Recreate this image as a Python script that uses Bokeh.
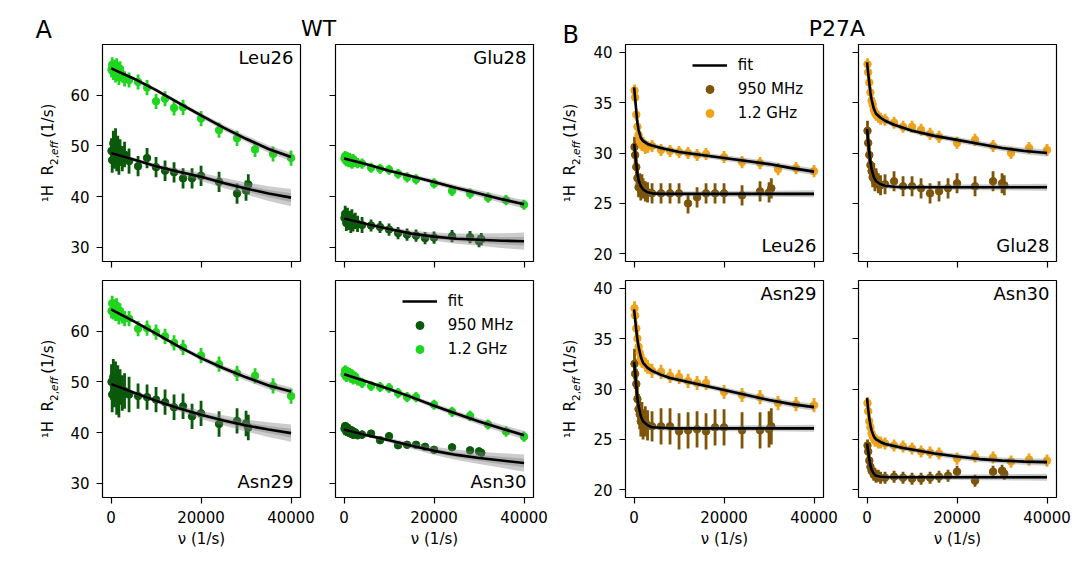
import math
from bokeh.plotting import figure
from bokeh.models import (Range1d, FixedTicker, Label, Legend, LegendItem, ColumnDataSource,
                          CustomLabelingPolicy)
from bokeh.layouts import row, column
from bokeh.embed import file_html
from bokeh.resources import INLINE

FONT = "DejaVu Sans"

# ---------------- data ----------------
NU_950 = [100, 250, 500, 750, 1000, 1250, 1500, 1750, 2000, 2500, 3000, 4000,
          6000, 8000, 10000, 12000, 14000, 16000, 18000, 20000, 24000, 28000, 30000, 30500]
NU_1200 = [100, 250, 500, 750, 1000, 1250, 1500, 1750, 2000, 2500, 3000, 4000,
           6000, 8000, 10000, 12000, 14000, 16000, 20000, 24000, 28000, 32000, 36000, 40000]

WT_FIT_NU = [0, 5000, 10000, 15000, 20000, 25000, 30000, 35000, 40000]
WT_SD_950 = [0.3, 0.35, 0.45, 0.6, 0.8, 1.0, 1.2, 1.45, 1.7]
WT_SD_1200 = [0.3, 0.3, 0.35, 0.4, 0.5, 0.55, 0.65, 0.75, 0.85]

P27A_FIT_NU = [0, 250, 500, 750, 1000, 1500, 2000, 3000, 4000, 6000, 8000, 10000,
               15000, 20000, 25000, 30000, 35000, 40000]
P27A_SD = [0.25, 0.25, 0.25, 0.25, 0.25, 0.25, 0.25, 0.25, 0.25, 0.25, 0.25, 0.25,
           0.25, 0.28, 0.3, 0.3, 0.32, 0.35]

# WT Leu26
WT_LEU26_950 = [49.0, 47.2, 50.5, 48.0, 51.0, 47.5, 49.5, 46.8, 48.8, 47.5, 48.3, 47.0,
                46.0, 47.6, 45.8, 45.1, 44.8, 43.6, 43.6, 44.1, 42.9, 40.6, 41.2, 42.4]
WT_LEU26_950_ERR = [2.5] * 12 + [2.0] * 12
WT_LEU26_1200 = [65.0, 66.0, 64.5, 65.5, 64.0, 65.8, 64.6, 63.5, 65.2, 64.0, 63.2, 63.0,
                 62.6, 61.5, 58.8, 59.3, 57.5, 57.6, 55.4, 53.1, 51.5, 49.3, 48.4, 47.6]
WT_LEU26_1200_ERR = [1.5] * 24
WT_LEU26_FIT_950 = [48.6, 47.3, 46.0, 44.9, 43.9, 42.7, 41.6, 40.6, 39.8]
WT_LEU26_FIT_1200 = [65.3, 63.3, 61.0, 58.5, 56.0, 53.6, 51.4, 49.4, 47.8]

# WT Glu28
WT_GLU28_950 = [35.8, 36.6, 34.8, 36.2, 35.0, 35.6, 34.4, 35.9, 34.7, 35.2, 34.6, 34.4,
                34.3, 34.0, 33.5, 32.8, 32.5, 32.3, 31.8, 31.9, 32.2, 32.0, 31.2, 31.6]
WT_GLU28_950_ERR = [1.6] * 12 + [1.2] * 12
WT_GLU28_1200 = [47.5, 48.0, 47.0, 47.8, 46.8, 47.6, 47.2, 46.5, 47.4, 46.9, 46.6, 46.5,
                 45.7, 45.5, 45.3, 44.5, 43.8, 43.4, 42.6, 41.1, 40.6, 39.8, 39.3, 38.4]
WT_GLU28_1200_ERR = [1.0] * 24
WT_GLU28_FIT_950 = [35.7, 34.6, 33.6, 32.7, 32.1, 31.7, 31.5, 31.3, 31.2]
WT_GLU28_FIT_1200 = [47.5, 46.4, 45.1, 44.0, 42.9, 41.7, 40.6, 39.5, 38.5]

# WT Asn29
WT_ASN29_950 = [50.0, 47.5, 51.0, 48.5, 50.5, 47.0, 49.8, 46.5, 49.0, 47.8, 48.2, 47.5,
                47.2, 47.0, 46.5, 46.0, 45.0, 45.2, 43.2, 43.8, 41.7, 42.3, 41.8, 41.0]
WT_ASN29_950_ERR = [3.5] * 12 + [2.5] * 12
WT_ASN29_1200 = [64.0, 65.5, 63.8, 64.8, 63.5, 65.0, 64.2, 62.8, 64.0, 63.0, 62.5, 62.5,
                 60.5, 60.6, 59.8, 59.0, 57.7, 56.8, 55.2, 53.5, 51.7, 51.2, 49.2, 47.2]
WT_ASN29_1200_ERR = [1.5] * 24
WT_ASN29_FIT_950 = [49.6, 47.9, 46.3, 44.8, 43.5, 42.4, 41.4, 40.6, 39.9]
WT_ASN29_FIT_1200 = [64.3, 62.0, 59.5, 57.0, 54.7, 52.7, 50.9, 49.3, 48.1]

# WT Asn30
WT_ASN30_950 = [40.8, 41.3, 40.2, 41.0, 40.0, 40.6, 39.8, 40.4, 39.6, 40.0, 39.5, 39.6,
                39.8, 38.5, 39.3, 37.5, 37.6, 37.6, 37.2, 36.6, 37.1, 36.5, 36.3, 36.0]
WT_ASN30_950_ERR = [0.8] * 12 + [0.6] * 12
WT_ASN30_1200 = [51.5, 52.3, 51.0, 52.0, 51.2, 51.8, 50.8, 51.5, 50.5, 51.0, 50.3, 49.8,
                 49.2, 49.0, 48.8, 47.8, 47.0, 47.0, 45.5, 44.1, 43.3, 41.6, 40.2, 39.2]
WT_ASN30_1200_ERR = [1.0] * 24
WT_ASN30_FIT_950 = [40.6, 39.5, 38.5, 37.4, 36.4, 35.6, 35.0, 34.5, 34.0]
WT_ASN30_FIT_1200 = [51.5, 50.1, 48.6, 47.0, 45.3, 43.7, 42.2, 40.8, 39.5]

# P27A Leu26
P_LEU26_950 = [30.6, 29.8, 28.6, 27.5, 26.6, 27.0, 26.3, 26.9, 26.5, 26.2, 26.1, 26.0,
               26.0, 26.0, 26.0, 25.0, 25.6, 26.0, 26.0, 26.0, 25.8, 26.2, 26.1, 26.5]
P_LEU26_950_ERR = [1.0] * 24
P_LEU26_1200 = [36.2, 35.5, 33.8, 32.6, 31.8, 31.3, 31.0, 30.8, 31.0, 30.5, 30.6, 30.7,
                30.3, 30.2, 30.1, 30.0, 29.8, 29.9, 29.6, 29.1, 29.0, 28.4, 28.5, 28.2]
P_LEU26_1200_ERR = [0.6] * 24
P_LEU26_FIT_950 = [30.9, 30.0, 28.9, 28.0, 27.3, 26.7, 26.4, 26.1, 26.0, 25.95, 25.95, 25.95,
                   25.95, 25.95, 25.95, 25.95, 25.95, 25.95]
P_LEU26_FIT_1200 = [36.5, 35.4, 34.1, 33.0, 32.3, 31.5, 31.2, 30.9, 30.75, 30.5, 30.3, 30.1,
                    29.8, 29.5, 29.2, 28.9, 28.5, 28.15]

# P27A Glu28
P_GLU28_950 = [32.2, 31.0, 29.8, 28.8, 28.2, 27.6, 28.0, 27.2, 27.5, 27.0, 26.8, 26.9,
               27.2, 26.7, 26.7, 26.5, 26.0, 26.2, 26.5, 27.0, 26.7, 27.2, 27.0, 26.8]
P_GLU28_950_ERR = [1.0] * 24
P_GLU28_1200 = [38.8, 38.0, 37.0, 36.0, 35.2, 34.8, 34.3, 34.0, 33.8, 33.6, 33.4, 33.3,
                33.0, 32.6, 32.6, 32.3, 31.9, 31.6, 31.0, 31.3, 30.7, 30.0, 30.5, 30.3]
P_GLU28_1200_ERR = [0.6] * 24
P_GLU28_FIT_950 = [32.4, 31.2, 30.0, 29.1, 28.4, 27.6, 27.2, 26.9, 26.75, 26.65, 26.6, 26.6,
                   26.6, 26.6, 26.6, 26.6, 26.6, 26.6]
P_GLU28_FIT_1200 = [39.0, 37.9, 36.9, 36.0, 35.3, 34.4, 33.9, 33.5, 33.2, 32.8, 32.5, 32.2,
                    31.7, 31.3, 30.9, 30.5, 30.2, 30.0]

# P27A Asn29
P_ASN29_950 = [32.5, 31.5, 30.5, 29.0, 28.0, 27.5, 26.8, 27.2, 26.5, 26.8, 26.4, 26.3,
               26.3, 26.3, 25.8, 25.9, 26.0, 25.8, 26.2, 26.2, 25.9, 25.9, 26.0, 26.3]
P_ASN29_950_ERR = [1.5] * 12 + [1.8] * 12
P_ASN29_1200 = [38.0, 37.3, 36.0, 35.0, 34.2, 33.6, 33.0, 32.8, 32.8, 32.4, 32.2, 31.8,
                31.7, 31.3, 31.2, 30.8, 30.6, 30.6, 29.7, 29.4, 29.2, 28.6, 28.5, 28.4]
P_ASN29_1200_ERR = [0.7] * 24
P_ASN29_FIT_950 = [32.7, 31.6, 30.2, 29.1, 28.3, 27.3, 26.8, 26.4, 26.2, 26.15, 26.1, 26.1,
                   26.1, 26.1, 26.1, 26.1, 26.1, 26.1]
P_ASN29_FIT_1200 = [37.9, 36.9, 35.8, 34.9, 34.2, 33.2, 32.6, 32.1, 31.8, 31.4, 31.1, 30.9,
                    30.4, 29.9, 29.4, 28.9, 28.5, 28.2]

# P27A Asn30
P_ASN30_950 = [24.4, 23.8, 22.9, 22.3, 21.9, 21.8, 21.5, 21.6, 21.3, 21.4, 21.2, 21.2,
               21.3, 21.2, 21.1, 21.1, 21.2, 21.3, 21.4, 21.8, 20.9, 21.8, 21.9, 21.6]
P_ASN30_950_ERR = [0.6] * 24
P_ASN30_1200 = [28.6, 27.8, 26.8, 26.2, 25.6, 25.3, 25.1, 24.9, 24.9, 24.7, 24.7, 24.6,
                24.4, 24.3, 24.1, 23.8, 23.7, 23.6, 23.1, 23.3, 23.2, 22.8, 23.0, 22.9]
P_ASN30_1200_ERR = [0.6] * 24
P_ASN30_FIT_950 = [24.6, 23.8, 23.0, 22.4, 22.0, 21.6, 21.4, 21.3, 21.27, 21.25, 21.25, 21.25,
                   21.25, 21.25, 21.25, 21.25, 21.25, 21.25]
P_ASN30_FIT_1200 = [29.1, 28.0, 27.1, 26.4, 25.9, 25.3, 25.0, 24.75, 24.55, 24.35, 24.15, 24.0,
                    23.6, 23.3, 23.05, 22.9, 22.8, 22.75]

WT_YTICKS = [30, 40, 50, 60]
P27A_YTICKS = [20, 25, 30, 35, 40]
X_TICKS = [0, 20000, 40000]
LEGEND_LABELS = ["fit", "950 MHz", "1.2 GHz"]

# ---------------- style / layout ----------------
WT_C950, WT_C1200 = "#0b590b", "#1fd61f"
P_C950, P_C1200 = "#7d5408", "#f0a31a"
X_RANGE = (-1900, 42100)
WT_YR = (27.2, 70.0)
P_YR = (19.24, 40.76)
FW, FH = 198, 217
LEFT = [40, 10, 35, 10]
RIGHT = [25, 25, 25, 15]
TOP = [2, 9]
BOTTOM = [10, 56]
HEADER_H = 42
FULL_H = HEADER_H + sum(TOP) + 2 * FH + sum(BOTTOM)
LAB1_W, LAB3_W = 62, 32
LAB1_X0, LAB3_X0 = 0, 558          # page x of the two label strips
HDR_WT_X0, HDR_P_X0 = 62, 590     # page x of the two title strips
FRAME_CENTER_Y = [HEADER_H + TOP[0] + FH / 2,
                  HEADER_H + TOP[0] + FH + BOTTOM[0] + TOP[1] + FH / 2]
MID = 0.346   # distance (em) from the text middle to the alphabetic baseline

PANELS = [
    dict(name="Leu26", col=0, row=0, pos="top", legend=False, group="WT",
         d950=WT_LEU26_950, e950=WT_LEU26_950_ERR, d1200=WT_LEU26_1200, e1200=WT_LEU26_1200_ERR,
         f950=WT_LEU26_FIT_950, f1200=WT_LEU26_FIT_1200),
    dict(name="Glu28", col=1, row=0, pos="top", legend=False, group="WT",
         d950=WT_GLU28_950, e950=WT_GLU28_950_ERR, d1200=WT_GLU28_1200, e1200=WT_GLU28_1200_ERR,
         f950=WT_GLU28_FIT_950, f1200=WT_GLU28_FIT_1200),
    dict(name="Asn29", col=0, row=1, pos="bottom", legend=False, group="WT",
         d950=WT_ASN29_950, e950=WT_ASN29_950_ERR, d1200=WT_ASN29_1200, e1200=WT_ASN29_1200_ERR,
         f950=WT_ASN29_FIT_950, f1200=WT_ASN29_FIT_1200),
    dict(name="Asn30", col=1, row=1, pos="bottom", legend=True, group="WT",
         d950=WT_ASN30_950, e950=WT_ASN30_950_ERR, d1200=WT_ASN30_1200, e1200=WT_ASN30_1200_ERR,
         f950=WT_ASN30_FIT_950, f1200=WT_ASN30_FIT_1200),
    dict(name="Leu26", col=2, row=0, pos="bottom", legend=True, group="P27A",
         d950=P_LEU26_950, e950=P_LEU26_950_ERR, d1200=P_LEU26_1200, e1200=P_LEU26_1200_ERR,
         f950=P_LEU26_FIT_950, f1200=P_LEU26_FIT_1200),
    dict(name="Glu28", col=3, row=0, pos="bottom", legend=False, group="P27A",
         d950=P_GLU28_950, e950=P_GLU28_950_ERR, d1200=P_GLU28_1200, e1200=P_GLU28_1200_ERR,
         f950=P_GLU28_FIT_950, f1200=P_GLU28_FIT_1200),
    dict(name="Asn29", col=2, row=1, pos="top", legend=False, group="P27A",
         d950=P_ASN29_950, e950=P_ASN29_950_ERR, d1200=P_ASN29_1200, e1200=P_ASN29_1200_ERR,
         f950=P_ASN29_FIT_950, f1200=P_ASN29_FIT_1200),
    dict(name="Asn30", col=3, row=1, pos="top", legend=False, group="P27A",
         d950=P_ASN30_950, e950=P_ASN30_950_ERR, d1200=P_ASN30_1200, e1200=P_ASN30_1200_ERR,
         f950=P_ASN30_FIT_950, f1200=P_ASN30_FIT_1200),
]

NO_LABELS = "for (const i of indices) { indices.unset(i) } return indices"


def blank_figure(w, h):
    f = figure(width=w, height=h, x_range=Range1d(0, w), y_range=Range1d(0, h),
               output_backend="svg", toolbar_location=None,
               x_axis_location=None, y_axis_location=None,
               min_border_left=0, min_border_right=0, min_border_top=0, min_border_bottom=0)
    f.grid.visible = False
    f.outline_line_color = None
    f.background_fill_color = "white"
    f.border_fill_color = "white"
    return f


def label_strip(w, x0, baseline_x, letter, letter_x, letter_base):
    """Full-height strip holding a panel letter and the two rotated y-axis labels."""
    f = blank_figure(w, FULL_H)
    f.add_layout(Label(x=letter_x - x0, y=FULL_H - (letter_base - MID * 24), text=letter,
                       text_font=FONT, text_font_size="24px", text_align="left",
                       text_baseline="middle", text_color="black"))
    fs, ss = 15, 10.5
    # (text, font px, style, advance in em, baseline shift px)
    pieces = [
        ("\u00b9H", fs, "normal", 1.153 + 0.636, 0),
        ("R", fs, "normal", 0.695, 0),
        ("2,", ss, "normal", 0.954, 4),
        ("eff", ss, "italic", 1.319 + 0.318, 4),
        ("(1/s)", fs, "normal", 2.274, 0),
    ]
    total = sum(adv * size for _, size, _, adv, _ in pieces)
    for cy in FRAME_CENTER_Y:
        pos = (FULL_H - cy) - total / 2.0
        for text, size, style, adv, shift in pieces:
            f.add_layout(Label(x=baseline_x - x0 + shift - MID * size, y=pos, text=text,
                               angle=math.pi / 2, text_align="left", text_baseline="middle",
                               text_font=FONT, text_font_size=f"{size}px",
                               text_font_style=style, text_color="black"))
            pos += adv * size
    return f


def title_strip(w, x0, title, cx):
    f = blank_figure(w, HEADER_H)
    f.add_layout(Label(x=cx - x0, y=HEADER_H - (36 - MID * 22), text=title, text_font=FONT,
                       text_font_size="22px", text_align="center", text_baseline="middle",
                       text_color="black"))
    return f


def make_panel(spec):
    col, rw = spec["col"], spec["row"]
    wt = spec["group"] == "WT"
    yr = WT_YR if wt else P_YR
    c950, c1200 = (WT_C950, WT_C1200) if wt else (P_C950, P_C1200)
    fit_nu = WT_FIT_NU if wt else P27A_FIT_NU
    L, R, T, B = LEFT[col], RIGHT[col], TOP[rw], BOTTOM[rw]
    p = figure(width=L + FW + R, height=T + FH + B,
               x_range=Range1d(*X_RANGE), y_range=Range1d(*yr),
               output_backend="svg", toolbar_location=None,
               min_border_left=L, min_border_right=R, min_border_top=T, min_border_bottom=B)
    p.grid.visible = False
    p.outline_line_color = "black"
    p.outline_line_width = 1.2
    p.background_fill_color = "white"
    p.border_fill_color = "white"
    p.xaxis.ticker = FixedTicker(ticks=X_TICKS)
    p.yaxis.ticker = FixedTicker(ticks=WT_YTICKS if wt else P27A_YTICKS)
    for ax in p.axis:
        ax.axis_line_color = None
        ax.major_tick_line_color = "black"
        ax.major_tick_line_width = 1.2
        ax.major_tick_out = 6
        ax.major_tick_in = 0
        ax.minor_tick_line_color = None
        ax.major_label_text_font = FONT
        ax.major_label_text_font_size = "15px"
        ax.major_label_text_color = "black"
    p.yaxis.major_label_standoff = 7
    p.xaxis.major_label_standoff = 7
    if col in (1, 3):
        p.yaxis.major_label_policy = CustomLabelingPolicy(code=NO_LABELS)
        p.yaxis.major_label_standoff = 0
        p.yaxis.major_label_text_font_size = "1px"
    if rw == 0:
        p.xaxis.major_label_policy = CustomLabelingPolicy(code=NO_LABELS)
        p.xaxis.major_label_standoff = 0
        p.xaxis.major_label_text_font_size = "1px"
    else:
        p.xaxis.axis_label = "\u03bd (1/s)"
        p.xaxis.axis_label_text_font = FONT
        p.xaxis.axis_label_text_font_size = "15px"
        p.xaxis.axis_label_text_font_style = "normal"
        p.xaxis.axis_label_text_color = "black"
        p.xaxis.axis_label_standoff = 4

    # data with error bars
    for nu, d, e, c in ((NU_950, spec["d950"], spec["e950"], c950),
                        (NU_1200, spec["d1200"], spec["e1200"], c1200)):
        src = ColumnDataSource(dict(x=nu, y=d,
                                    lo=[a - b for a, b in zip(d, e)],
                                    hi=[a + b for a, b in zip(d, e)]))
        p.segment(x0="x", y0="lo", x1="x", y1="hi", source=src, line_color=c, line_width=2.8)
        p.scatter(x="x", y="y", source=src, size=7.5, fill_color=c, line_color=c)

    # fits with uncertainty band
    fit_line = None
    for f, sd in ((spec["f950"], WT_SD_950 if wt else P27A_SD),
                  (spec["f1200"], WT_SD_1200 if wt else P27A_SD)):
        p.varea(x=fit_nu, y1=[a - s for a, s in zip(f, sd)], y2=[a + s for a, s in zip(f, sd)],
                fill_color="#7a7a7a", fill_alpha=0.38)
        p.varea(x=fit_nu, y1=[a - 0.5 * s for a, s in zip(f, sd)],
                y2=[a + 0.5 * s for a, s in zip(f, sd)],
                fill_color="#7a7a7a", fill_alpha=0.38)
        fit_line = p.line(x=fit_nu, y=f, line_color="black", line_width=2.6)

    # residue label (baseline 19 px below the top or 10 px above the bottom)
    if spec["pos"] == "top":
        ly, off = yr[1], -(19 - MID * 18)
    else:
        ly, off = yr[0], 10 + MID * 18
    p.add_layout(Label(x=X_RANGE[1], y=ly, x_offset=-7, y_offset=off, text=spec["name"],
                       text_align="right", text_baseline="middle", text_font=FONT,
                       text_font_size="18px", text_color="black"))

    if spec["legend"]:
        items = [LegendItem(label=LEGEND_LABELS[0], renderers=[fit_line])]
        for lab, c in ((LEGEND_LABELS[1], c950), (LEGEND_LABELS[2], c1200)):
            nan_src = ColumnDataSource(dict(x=[float("nan")], y=[float("nan")]))
            bar = p.scatter(x="x", y="y", source=nan_src, marker="dash", angle=math.pi / 2,
                            size=8, line_color=c, line_width=2.8)
            dot = p.scatter(x="x", y="y", source=nan_src, marker="circle", size=8,
                            fill_color=c, line_color=c)
            items.append(LegendItem(label=lab, renderers=[bar, dot]))
        leg = Legend(items=items, location=(66.7, 138.3), padding=0, margin=0, spacing=4,
                     glyph_width=35, glyph_height=20, label_height=20, label_standoff=11,
                     label_text_font=FONT, label_text_font_size="15px",
                     label_text_color="black", border_line_color=None,
                     background_fill_alpha=0)
        p.add_layout(leg)
    return p


figs = {(s["col"], s["row"]): make_panel(s) for s in PANELS}

wt_w = (LEFT[0] + FW + RIGHT[0]) + (LEFT[1] + FW + RIGHT[1])
p_w = (LEFT[2] + FW + RIGHT[2]) + (LEFT[3] + FW + RIGHT[3])

lab1 = label_strip(LAB1_W, LAB1_X0, 53, "A", 35, 38)
lab3 = label_strip(LAB3_W, LAB3_X0, 575, "B", 562, 43)
wt_block = column(title_strip(wt_w, HDR_WT_X0, "WT", 318),
                  row(figs[(0, 0)], figs[(1, 0)], spacing=0),
                  row(figs[(0, 1)], figs[(1, 1)], spacing=0), spacing=0)
p_block = column(title_strip(p_w, HDR_P_X0, "P27A", 836.5),
                 row(figs[(2, 0)], figs[(3, 0)], spacing=0),
                 row(figs[(2, 1)], figs[(3, 1)], spacing=0), spacing=0)

layout = row(lab1, wt_block, lab3, p_block, spacing=0)

open("out.html", "w").write(file_html(layout, INLINE))
